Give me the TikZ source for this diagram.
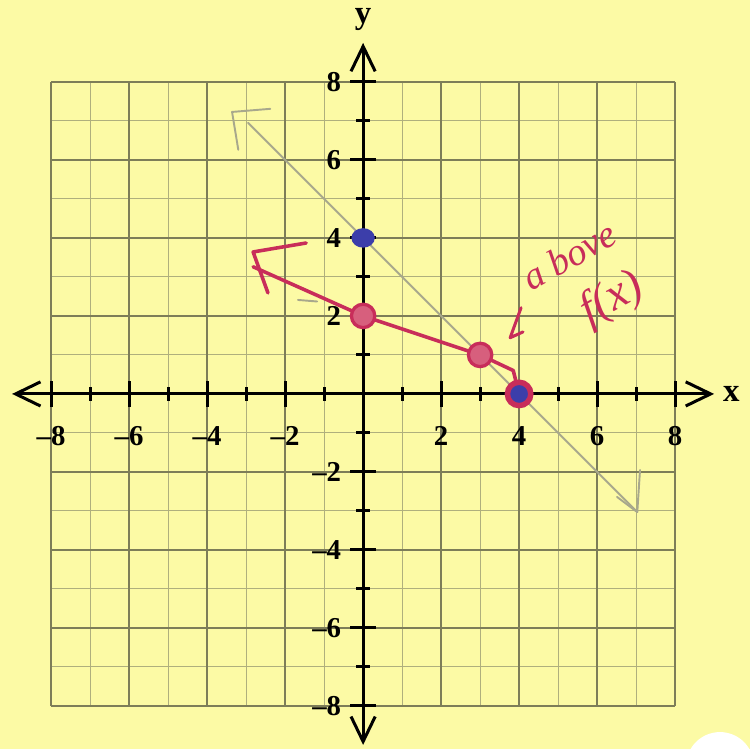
\documentclass[tikz,border=0pt]{standalone}
\usepackage{fontspec}
\setmainfont{Liberation Serif}
\usetikzlibrary{arrows.meta}
\definecolor{paper}{RGB}{252,250,165}
\definecolor{gridmaj}{RGB}{125,125,88}
\definecolor{gridmin}{RGB}{175,175,125}
\definecolor{pencil}{RGB}{168,168,140}
\definecolor{marker}{RGB}{200,45,90}
\definecolor{markerfill}{RGB}{215,95,125}
\definecolor{dotblue}{RGB}{60,62,170}
\tikzset{
  majline/.style={gridmaj,line width=0.55pt},
  minline/.style={gridmin,line width=0.4pt},
  axisline/.style={line width=1.1pt,{Straight Barb[length=3.2mm,width=3.1mm]}-{Straight Barb[length=3.2mm,width=3.1mm]}},
  tickline/.style={line width=1.1pt},
  numlabel/.style={font=\fontsize{10.5}{12}\selectfont\bfseries,inner sep=0pt},
  pencilline/.style={pencil,line width=0.7pt,line cap=round,line join=round},
  redline/.style={marker,line width=1.3pt,line cap=round,line join=round},
  reddot/.style={marker,fill=markerfill,line width=1.2pt},
  hand/.style={marker,inner sep=0pt}
}
\begin{document}
\begin{tikzpicture}[x=0.5cm,y=0.5cm]
\fill[paper] (-9.31,-9.10) rectangle (9.92,10.10);
\useasboundingbox (-9.31,-9.10) rectangle (9.92,10.10);
% grid
\foreach \i in {-7,-5,...,7} {
  \draw[minline] (\i,-8) -- (\i,8);
  \draw[minline] (-8,\i) -- (8,\i);
}
\foreach \i in {-8,-6,...,8} {
  \draw[majline] (\i,-8) -- (\i,8);
  \draw[majline] (-8,\i) -- (8,\i);
}
% axes
\draw[axisline] (-9,0) -- (9,0);
\draw[axisline] (0,-9) -- (0,9);
\node[font=\fontsize{12}{14}\selectfont\bfseries,inner sep=0pt] (xlab) at (9.44,0) {x};
\node[font=\fontsize{12}{14}\selectfont\bfseries,inner sep=0pt] (ylab) at (0,9.6) {y};
\foreach \i in {-8,-6,...,8} {
  \draw[tickline] (\i,-0.33) -- (\i,0.33);
  \draw[tickline] (-0.33,\i) -- (0.33,\i);
}
\foreach \i in {-7,-5,...,7} {
  \draw[tickline] (\i,-0.17) -- (\i,0.17);
  \draw[tickline] (-0.17,\i) -- (0.17,\i);
}
\foreach \v/\t in {-8/{--8},-6/{--6},-4/{--4},-2/{--2},2/2,4/4,6/6,8/8} {
  \node[numlabel] (x\v) at (\v,-1.08) {\t};
  \node[numlabel,anchor=east] (y\v) at (-0.55,\v) {\t};
}
% pencil line
\coordinate (gtop) at (-2.95,6.95);
\coordinate (gbot) at (7.0,-3.0);
\draw[pencilline] (gtop) -- (gbot);
\draw[pencilline] (-2.38,7.31) -- (-3.36,7.23) -- (-3.2,6.26);
\draw[pencilline] (7.1,-1.95) -- (7.03,-3.03) -- (6.51,-2.64);
\draw[pencilline] (-1.67,2.41) -- (-1.18,2.37);
% red line
\coordinate (tail) at (-2.82,3.26);
\coordinate (A) at (0,2);
\coordinate (B) at (3,1);
\coordinate (C) at (4,0);
\draw[redline] (tail) -- (A) -- (B) -- (3.85,0.6) -- (C);
\draw[redline] (-1.46,3.87) -- (-2.82,3.64) -- (-2.44,2.59);
% points
\fill[dotblue] (0,4) ellipse [x radius=0.3,y radius=0.25];
\draw[reddot] (A) circle (0.3);
\draw[reddot] (B) circle (0.3);
\draw[marker,fill=dotblue,line width=2pt] (C) circle (0.3);
% note
\draw[redline,line width=1.1pt] (4.05,2.21) -- (3.77,1.44) -- (4.1,1.59);
\node[hand,rotate=29,align=left,font=\fontsize{14}{16}\selectfont\itshape] (above) at (5.7,2.8)
  {a bove\\[5pt]\hspace*{0.9em}{\fontsize{17}{17}\selectfont f(x)}};
% corner
\fill[white] (9.15,-9.54) circle (0.87);
\end{tikzpicture}
\end{document}
